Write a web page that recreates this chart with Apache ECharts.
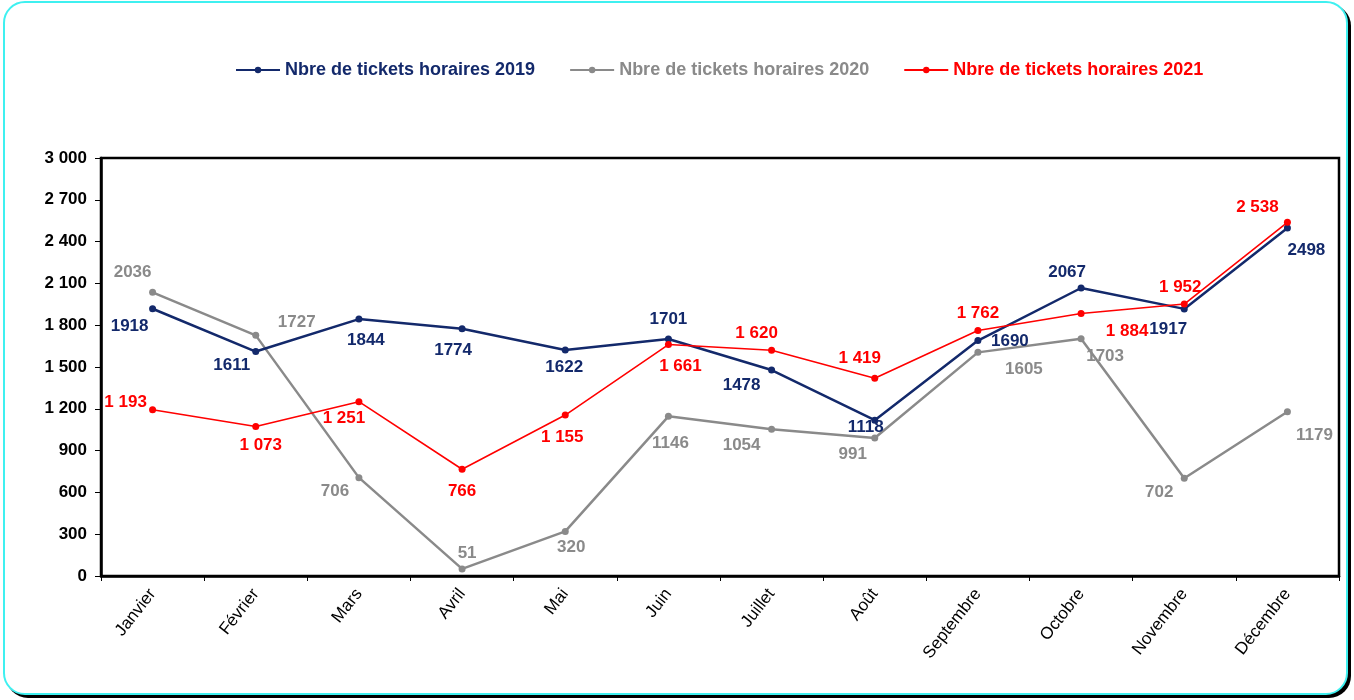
<!DOCTYPE html>
<html>
<head>
<meta charset="utf-8">
<script src="https://cdn.jsdelivr.net/npm/echarts@6/dist/echarts.min.js"></script>
<style>
html,body{margin:0;padding:0;background:#fff;}
#frame{position:absolute;left:3px;top:1px;width:1341px;height:690px;border:2px solid #3ff0f0;border-radius:22px;box-shadow:3px 3px 0 #000;background:#fff;}
#chart{position:absolute;left:0;top:0;width:1354px;height:700px;}
</style>
</head>
<body>
<div id="frame"></div>
<div id="chart"></div>
<script>
const categories = ['Janvier','Février','Mars','Avril','Mai','Juin','Juillet','Août','Septembre','Octobre','Novembre','Décembre'];
const seriesNames = ['Nbre de tickets horaires 2019','Nbre de tickets horaires 2020','Nbre de tickets horaires 2021'];
const values2019 = [1918, 1611, 1844, 1774, 1622, 1701, 1478, 1118, 1690, 2067, 1917, 2498];
const values2020 = [2036, 1727, 706, 51, 320, 1146, 1054, 991, 1605, 1703, 702, 1179];
const values2021 = [1193, 1073, 1251, 766, 1155, 1661, 1620, 1419, 1762, 1884, 1952, 2538];
const yTicks = [0, 300, 600, 900, 1200, 1500, 1800, 2100, 2400, 2700, 3000];

// label offsets (style only): [dx, dy] relative to point
const off2019 = [[-23,18],[-24,14],[7,21],[-9,21],[-1,17],[0,-20],[-30,15],[-9,7],[32,1],[-14,-16],[-16,20],[19,22]];
const off2020 = [[-20,-20],[41,-13],[-24,14],[5,-16],[6,16],[2,27],[-30,16],[-22,16],[46,17],[24,18],[-25,14],[27,24]];
const off2021 = [[-27,-7],[5,19],[-15,17],[0,22],[-3,22],[12,22],[-15,-17],[-15,-20],[0,-17],[46,18],[-4,-17],[-30,-15]];

const FONT = 'Liberation Sans, Arial, sans-serif';
const fmtSpace = v => String(v).replace(/\B(?=(\d{3})+(?!\d))/g, ' ');

function mkData(vals, offs, color, spaced){
  return vals.map((v,i)=>({
    value: v,
    label: {
      show: true,
      position: 'inside',
      offset: offs[i],
      color: color,
      fontFamily: FONT,
      fontWeight: 'bold',
      fontSize: 17,
      formatter: spaced ? (p => fmtSpace(p.value)) : (p => String(p.value))
    }
  }));
}

const C19 = '#13296b', C20 = '#8a8a8a', C21 = '#ff0000';

const chart = echarts.init(document.getElementById('chart'));
chart.setOption({
  backgroundColor: 'transparent',
  animation: false,
  legend: {
    top: 56,
    left: 230,
    itemGap: 34,
    itemWidth: 44,
    itemHeight: 8,
    textStyle: {fontFamily: FONT, fontWeight: 'bold', fontSize: 18},
    data: [
      {name: seriesNames[0], textStyle: {color: C19}},
      {name: seriesNames[1], textStyle: {color: C20}},
      {name: seriesNames[2], textStyle: {color: C21}}
    ]
  },
  grid: {left: 101, top: 158, right: 15, bottom: 124, show: true, borderColor: '#000', borderWidth: 2.5, backgroundColor: 'transparent'},
  xAxis: {
    type: 'category',
    data: categories,
    boundaryGap: true,
    axisLine: {show: true, lineStyle: {color: '#000', width: 2.5}},
    axisTick: {show: true, inside: false, length: 5, alignWithLabel: false, lineStyle: {color: '#000'}},
    axisLabel: {rotate: 52, color: '#000', fontFamily: FONT, fontSize: 17, margin: 15, interval: 0},
    splitLine: {show: false}
  },
  yAxis: {
    type: 'value',
    min: 0, max: 3000, interval: 300,
    axisLine: {show: true, lineStyle: {color: '#000', width: 2.5}},
    axisTick: {show: true, inside: false, length: 6, lineStyle: {color: '#000'}},
    axisLabel: {color: '#000', fontFamily: FONT, fontWeight: 'bold', fontSize: 17, margin: 14,
      formatter: v => yTicks.includes(v) ? fmtSpace(v) : ''},
    splitLine: {show: false}
  },
  series: [
    {name: seriesNames[0], type: 'line', data: mkData(values2019, off2019, C19, false), color: C19,
      lineStyle: {width: 2.5, color: C19}, symbol: 'circle', symbolSize: 7, itemStyle: {color: C19}, z: 3},
    {name: seriesNames[1], type: 'line', data: mkData(values2020, off2020, C20, false), color: C20,
      lineStyle: {width: 2.5, color: C20}, symbol: 'circle', symbolSize: 7, itemStyle: {color: C20}, z: 2},
    {name: seriesNames[2], type: 'line', data: mkData(values2021, off2021, C21, true), color: C21,
      lineStyle: {width: 1.6, color: C21}, symbol: 'circle', symbolSize: 7, itemStyle: {color: C21}, z: 4}
  ]
});
</script>
</body>
</html>
